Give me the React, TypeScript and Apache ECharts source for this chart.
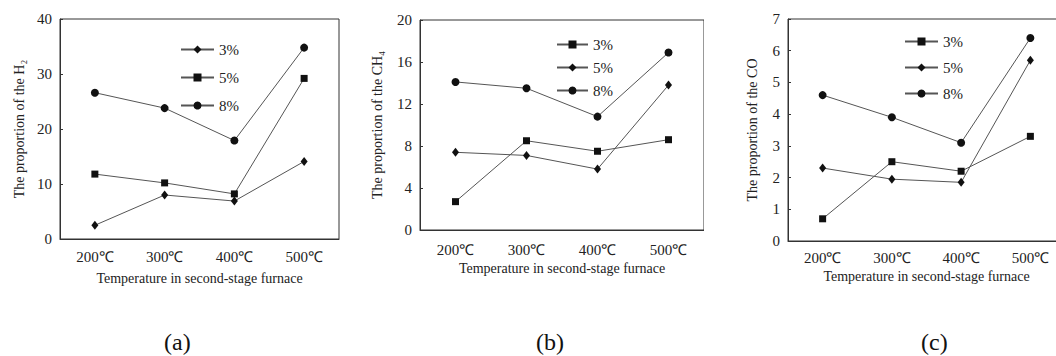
import React, { useEffect, useRef } from "react";
import * as echarts from "echarts";

const categories = ["200℃", "300℃", "400℃", "500℃"];

const h2_3 = [2.5, 8.0, 6.9, 14.1];
const h2_5 = [11.8, 10.2, 8.2, 29.2];
const h2_8 = [26.6, 23.8, 17.9, 34.8];

const ch4_3 = [2.7, 8.5, 7.5, 8.6];
const ch4_5 = [7.4, 7.1, 5.8, 13.8];
const ch4_8 = [14.1, 13.5, 10.8, 16.9];

const co_3 = [0.7, 2.5, 2.2, 3.3];
const co_5 = [2.3, 1.95, 1.85, 5.7];
const co_8 = [4.6, 3.9, 3.1, 6.4];

const seriesNames = ["3%", "5%", "8%"];
const panelLabels = ["(a)", "(b)", "(c)"];
const yTitles = ["The proportion of the H₂", "The proportion of the CH₄", "The proportion of the CO"];
const xTitle = "Temperature in second-stage furnace";

const FONT = "Liberation Serif";
const TXT = "#222";
const AX = "#333";

type Sym = { symbol: string; size: number | number[] };
const DIAMOND: Sym = { symbol: "diamond", size: [7, 9] };
const SQUARE: Sym = { symbol: "rect", size: 7 };
const CIRCLE: Sym = { symbol: "circle", size: 8 };

const panels = [
  {
    left: 0, divWidth: 352, gridLeft: 60, gridTop: 19, gridWidth: 279, gridHeight: 220,
    max: 40, interval: 10, data: [h2_3, h2_5, h2_8], syms: [DIAMOND, SQUARE, CIRCLE],
    legendLeft: 180, legendTop: 42, legendGap: 13, legendW: 33,
    xLabelMargin: 10, xNameGap: 32, yNameGap: 29, labelX: 182,
  },
  {
    left: 352, divWidth: 352, gridLeft: 68, gridTop: 20, gridWidth: 286, gridHeight: 210,
    max: 20, interval: 4, data: [ch4_3, ch4_5, ch4_8], syms: [SQUARE, DIAMOND, CIRCLE],
    legendLeft: 204, legendTop: 37, legendGap: 8, legendW: 31,
    xLabelMargin: 12, xNameGap: 31, yNameGap: 36, labelX: 202,
  },
  {
    left: 704, divWidth: 380, gridLeft: 84, gridTop: 19, gridWidth: 277, gridHeight: 222,
    max: 7, interval: 1, data: [co_3, co_5, co_8], syms: [SQUARE, DIAMOND, CIRCLE],
    legendLeft: 200, legendTop: 34, legendGap: 11, legendW: 33,
    xLabelMargin: 9, xNameGap: 22, yNameGap: 29, labelX: 235,
  },
];

function buildOption(i: number) {
  const p = panels[i];
  return {
    animation: false,
    textStyle: { fontFamily: FONT, color: TXT },
    grid: {
      left: p.gridLeft, top: p.gridTop, width: p.gridWidth, height: p.gridHeight,
      show: true, borderColor: AX, borderWidth: 1, backgroundColor: "transparent",
    },
    legend: {
      orient: "vertical",
      left: p.legendLeft,
      top: p.legendTop,
      itemWidth: p.legendW,
      itemHeight: 10,
      itemGap: p.legendGap,
      padding: 0,
      selectedMode: false,
      data: seriesNames,
      textStyle: { fontFamily: FONT, fontSize: 15, color: TXT, lineHeight: 14 },
    },
    xAxis: {
      type: "category",
      data: categories,
      boundaryGap: true,
      axisLine: { lineStyle: { color: AX, width: 1 } },
      axisTick: { alignWithLabel: true, length: 4, lineStyle: { color: AX } },
      axisLabel: { fontFamily: FONT, fontSize: 15, color: TXT, margin: p.xLabelMargin },
      name: xTitle,
      nameLocation: "middle",
      nameGap: p.xNameGap,
      nameTextStyle: { fontFamily: FONT, fontSize: 14, color: TXT },
      splitLine: { show: false },
    },
    yAxis: {
      type: "value",
      min: 0,
      max: p.max,
      interval: p.interval,
      axisLine: { show: true, lineStyle: { color: AX, width: 1 } },
      axisTick: { show: true, inside: true, length: 3, lineStyle: { color: AX } },
      axisLabel: { fontFamily: FONT, fontSize: 15, color: TXT, margin: 8 },
      splitLine: { show: false },
      name: yTitles[i],
      nameLocation: "middle",
      nameGap: p.yNameGap,
      nameTextStyle: { fontFamily: FONT, fontSize: 14, color: TXT },
    },
    series: seriesNames.map((name, k) => ({
      name,
      type: "line",
      data: p.data[k],
      symbol: p.syms[k].symbol,
      symbolSize: p.syms[k].size,
      showSymbol: true,
      lineStyle: { color: "#555", width: 1 },
      itemStyle: { color: "#111", borderWidth: 0 },
      emphasis: { disabled: true },
    })),
    graphic: [
      {
        type: "text",
        left: p.labelX - 18,
        top: 330,
        style: { text: panelLabels[i], fontFamily: FONT, fontSize: 24, fill: "#111" },
      },
    ],
  };
}

function Panel({ index }: { index: number }) {
  const ref = useRef<HTMLDivElement>(null);
  useEffect(() => {
    if (!ref.current) return;
    const chart = echarts.init(ref.current, undefined, { renderer: "svg" });
    chart.setOption(buildOption(index) as any);
    return () => chart.dispose();
  }, [index]);
  const p = panels[index];
  return (
    <div
      ref={ref}
      style={{ position: "absolute", left: p.left, top: 0, width: p.divWidth, height: 356 }}
    />
  );
}

export default function App() {
  return (
    <div
      style={{
        position: "absolute", left: 0, top: 0, width: 1056, height: 356,
        background: "#fff", overflow: "hidden",
      }}
    >
      {panels.map((_, i) => (
        <Panel key={i} index={i} />
      ))}
    </div>
  );
}
